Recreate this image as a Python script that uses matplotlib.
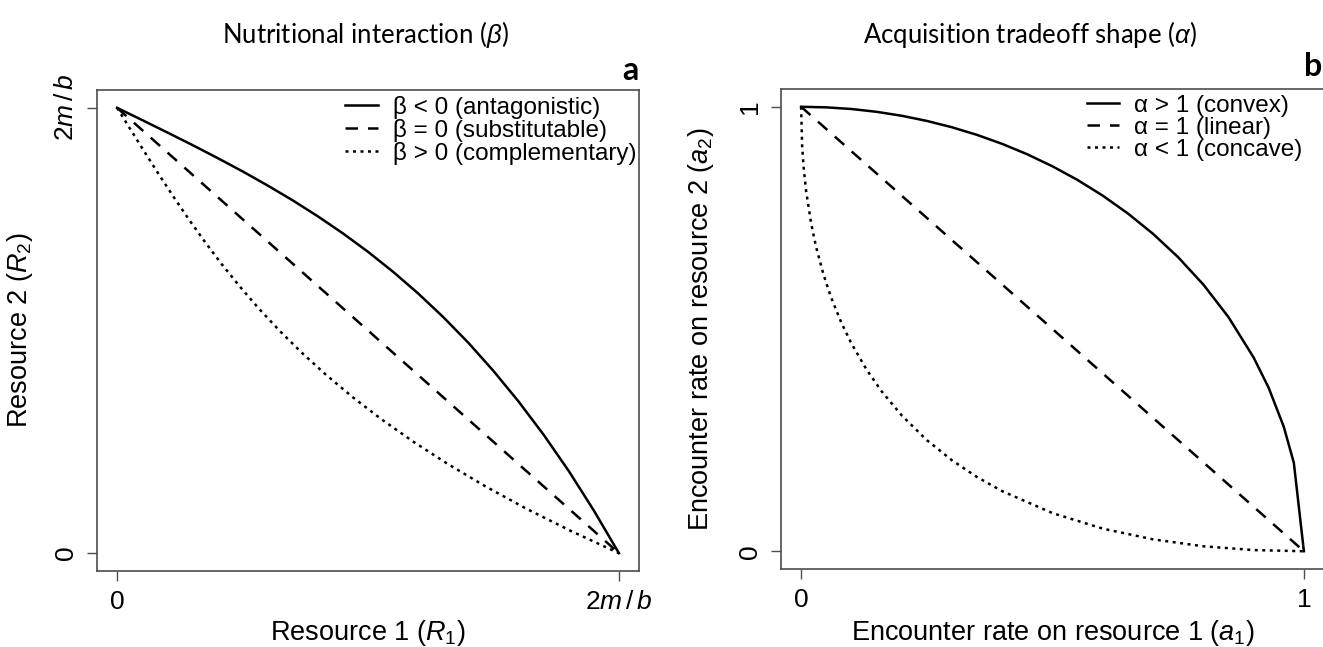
import matplotlib.pyplot as plt

plt.rcParams['font.family'] = ['Liberation Sans', 'DejaVu Sans']
plt.rcParams['mathtext.fontset'] = 'custom'
plt.rcParams['mathtext.rm'] = 'Liberation Sans'
plt.rcParams['mathtext.it'] = 'Liberation Sans:italic'
plt.rcParams['mathtext.bf'] = 'Liberation Sans:bold'

# panel a: resource isoclines, in units of 2m/b
r1_antag = [0, 0.05, 0.1, 0.15, 0.2, 0.25, 0.3, 0.35, 0.4, 0.45, 0.5,
            0.55, 0.6, 0.65, 0.7, 0.75, 0.8, 0.85, 0.9, 0.95, 1]
r2_antag = [1, 0.9725, 0.9447, 0.9165, 0.8874, 0.8573, 0.8256, 0.7922, 0.7564, 0.7181, 0.6767,
            0.6318, 0.5831, 0.5301, 0.4724, 0.4092, 0.3406, 0.2659, 0.1846, 0.0959, 0]
r1_subst = [0, 1]
r2_subst = [1, 0]
r1_compl = [0, 0.0275, 0.0553, 0.0835, 0.1126, 0.1427, 0.1744, 0.2078, 0.2436, 0.2819, 0.3233,
            0.3682, 0.4169, 0.4699, 0.5276, 0.5908, 0.6594, 0.7341, 0.8154, 0.9041, 1]
r2_compl = [1, 0.95, 0.9, 0.85, 0.8, 0.75, 0.7, 0.65, 0.6, 0.55, 0.5,
            0.45, 0.4, 0.35, 0.3, 0.25, 0.2, 0.15, 0.1, 0.05, 0]

# panel b: acquisition tradeoff curves
a1_convex = [0, 0.05, 0.1, 0.15, 0.2, 0.25, 0.3, 0.35, 0.4, 0.45, 0.5, 0.55,
             0.6, 0.65, 0.7, 0.75, 0.8, 0.85, 0.9, 0.93, 0.96, 0.98, 1]
a2_convex = [1, 0.9987, 0.995, 0.9887, 0.9798, 0.9682, 0.9539, 0.9367, 0.9165, 0.893, 0.866, 0.8352,
             0.8, 0.7599, 0.7141, 0.6614, 0.6, 0.5268, 0.4359, 0.3676, 0.28, 0.199, 0]
a1_linear = [0, 1]
a2_linear = [1, 0]
a1_concave = [0, 0.002, 0.005, 0.01, 0.02, 0.03, 0.045, 0.06, 0.08, 0.1, 0.13, 0.16,
              0.2, 0.25, 0.3, 0.35, 0.4, 0.5, 0.6, 0.7, 0.8, 0.9, 1]
a2_concave = [1, 0.9126, 0.8636, 0.81, 0.7372, 0.6836, 0.6207, 0.5701, 0.5143, 0.4675, 0.4089, 0.36,
              0.3056, 0.25, 0.2046, 0.1668, 0.1351, 0.0858, 0.0508, 0.0267, 0.0111, 0.0026, 0]

labels_a = ['β < 0 (antagonistic)', 'β = 0 (substitutable)', 'β > 0 (complementary)']
labels_b = ['α > 1 (convex)', 'α = 1 (linear)', 'α < 1 (concave)']

W, H = 1323, 647
fig = plt.figure(figsize=(W / 100, H / 100), dpi=100)

ax_a = fig.add_axes([97 / W, 1 - 571 / H, 542 / W, 481 / H])
ax_b = fig.add_axes([781 / W, 1 - 569 / H, 543 / W, 480 / H])

lw = 1.8
styles = ['-', (0, (5, 4)), (0, (1.2, 1.8))]
frame_col = '#4d4d4d'


def setup(ax, xticklabels, yticklabels, xlabel, ylabel, xlab_y, ylab_x):
    ax.set_xlim(-0.04, 1.04)
    ax.set_ylim(-0.04, 1.04)
    ax.set_xticks([0, 1])
    ax.set_yticks([0, 1])
    ax.set_xticklabels(xticklabels, fontsize=19)
    ax.set_yticklabels(yticklabels, fontsize=19, rotation=90, va='center')
    ax.tick_params(direction='out', length=7, width=1, color=frame_col, pad=7)
    for s in ax.spines.values():
        s.set_color(frame_col)
        s.set_linewidth(1.2)
    ax.set_xlabel(xlabel, fontsize=19.5, va='center')
    ax.xaxis.set_label_coords(0.5, xlab_y)
    ax.set_ylabel(ylabel, fontsize=19.5, va='center')
    ax.yaxis.set_label_coords(ylab_x, 0.5)


# panel a
ax_a.plot(r1_antag, r2_antag, color='black', lw=lw, ls=styles[0], label=labels_a[0])
ax_a.plot(r1_subst, r2_subst, color='black', lw=lw, ls=styles[1], label=labels_a[1])
ax_a.plot(r1_compl, r2_compl, color='black', lw=lw, ls=styles[2], label=labels_a[2])
setup(ax_a, ['0', r'$2m\,/\,b$'], ['0', r'$2m\,/\,b$'],
      r'Resource 1 ($R_1$)', r'Resource 2 ($R_2$)', -0.129, -0.142)

# panel b
ax_b.plot(a1_convex, a2_convex, color='black', lw=lw, ls=styles[0], label=labels_b[0])
ax_b.plot(a1_linear, a2_linear, color='black', lw=lw, ls=styles[1], label=labels_b[1])
ax_b.plot(a1_concave, a2_concave, color='black', lw=lw, ls=styles[2], label=labels_b[2])
setup(ax_b, ['0', '1'], ['0', '1'],
      r'Encounter rate on resource 1 ($a_1$)', r'Encounter rate on resource 2 ($a_2$)', -0.133, -0.147)

for ax, anchor in [(ax_a, (0.995, 0.988)), (ax_b, (0.96, 0.988))]:
    ax.legend(loc='upper right', bbox_to_anchor=anchor, frameon=False, fontsize=17.5,
              handlelength=1.35, handletextpad=0.6, labelspacing=0.0,
              borderpad=0, borderaxespad=0)

# panel titles and letters
tfont = ['Lato', 'Open Sans', 'DejaVu Sans']
fig.text(365 / W, 1 - 35 / H, r'Nutritional interaction ($\beta$)', ha='center', va='center',
         fontsize=18.5, family=tfont)
fig.text(1030 / W, 1 - 35 / H, r'Acquisition tradeoff shape ($\alpha$)', ha='center', va='center',
         fontsize=18.5, family=tfont)
fig.text(630 / W, 1 - 71 / H, 'a', ha='center', va='center', fontsize=23, fontweight='bold', family=tfont)
fig.text(1313 / W, 1 - 67 / H, 'b', ha='center', va='center', fontsize=23, fontweight='bold', family=tfont)

fig.savefig('out.png', dpi=100)
